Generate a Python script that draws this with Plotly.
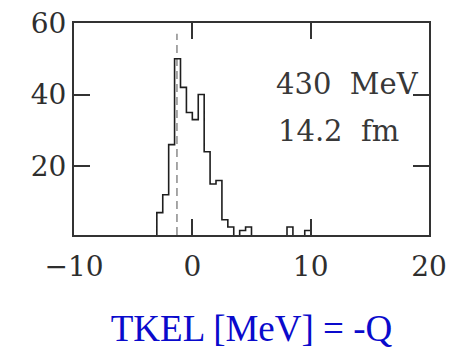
import plotly.graph_objects as go

# Histogram data (bin left edges, width 0.5 MeV)
bin_left = [-3.0, -2.5, -2.0, -1.5, -1.0, -0.5, 0.0, 0.5, 1.0, 1.5, 2.0, 2.5, 3.0,
            3.5, 4.0, 4.5, 5.0, 5.5, 6.0, 6.5, 7.0, 7.5, 8.0, 8.5, 9.0, 9.5]
counts = [7, 12, 26, 50, 42, 35, 33, 40, 24, 15, 16, 5, 3,
          0, 2, 3, 0, 0, 0, 0, 0, 0, 3, 0, 0, 2]
bin_width = 0.5
ref_x = -1.3          # dashed reference line
ref_y = [0.75, 57]

x_ticks = [-10, 0, 10, 20]
y_ticks = [20, 40, 60]
energy_label = "430\u00a0\u00a0MeV"
distance_label = "14.2\u00a0\u00a0fm"
x_title = "TKEL [MeV] = -Q"

# build step coordinates
xs = [bin_left[0]] + bin_left + [bin_left[-1] + bin_width]
ys = [0] + counts + [counts[-1]]

fig = go.Figure()
fig.add_trace(go.Scatter(x=[ref_x, ref_x], y=ref_y, mode="lines",
                         line=dict(color="#8a8a8a", width=1.5, dash="8px,5px"),
                         hoverinfo="skip"))
fig.add_trace(go.Scatter(x=xs, y=ys, mode="lines", line_shape="hv",
                         line=dict(color="#1e1e1e", width=1.6)))

fig.add_annotation(x=6.9, y=43.0, xref="x", yref="y", text=energy_label,
                   showarrow=False, xanchor="left", yanchor="middle",
                   font=dict(family="DejaVu Serif", size=29, color="#383838"))
fig.add_annotation(x=7.1, y=29.8, xref="x", yref="y", text=distance_label,
                   showarrow=False, xanchor="left", yanchor="middle",
                   font=dict(family="DejaVu Serif", size=29, color="#383838"))

fig.update_layout(
    width=466, height=349,
    margin=dict(l=74, r=37, t=23, b=114, autoexpand=False),
    paper_bgcolor="white", plot_bgcolor="white",
    showlegend=False,
    font=dict(family="DejaVu Serif", size=28, color="#2e2e2e"),
)
fig.update_xaxes(range=[-10, 20], tickvals=x_ticks, ticks="inside", ticklen=16,
                 tickwidth=2, tickcolor="#333333", showline=True, linewidth=2,
                 linecolor="#333333", mirror="ticks", showgrid=False, zeroline=False,
                 ticklabelstandoff=5, automargin=False,
                 title=dict(text=x_title, standoff=47,
                            font=dict(family="Times New Roman, Liberation Serif, serif",
                                      size=37, color="#0a0acc")))
fig.update_yaxes(range=[0.75, 60], tickvals=y_ticks, ticks="inside", ticklen=16,
                 tickwidth=2, tickcolor="#333333", showline=True, linewidth=2,
                 linecolor="#333333", mirror="ticks", showgrid=False, zeroline=False,
                 automargin=False)

fig.write_html("out.html")
